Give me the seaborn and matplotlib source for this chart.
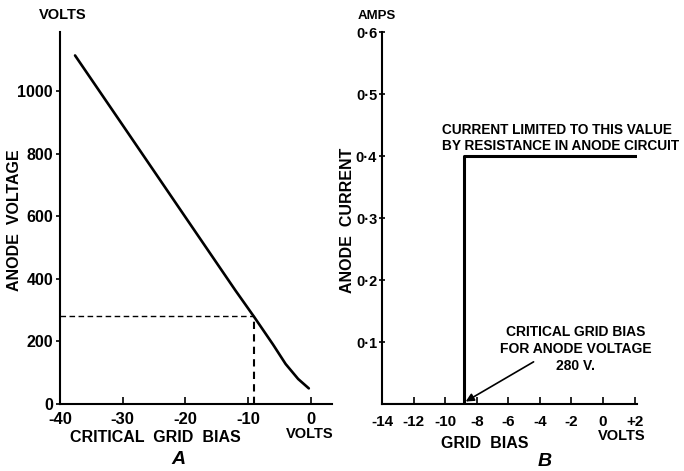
import matplotlib
matplotlib.use("Agg")
import matplotlib.pyplot as plt
import pandas as pd
import seaborn as sns

# Panel A: anode voltage against critical grid bias
crit_bias = [-37.6, -30, -20, -12, -9, -6, -4, -2, -0.3]
anode_volts = [1115, 892, 598, 363, 278, 190, 128, 80, 50]
op_bias = -9
op_volts = 280
a_xticks = [-40, -30, -20, -10, 0]
a_xlabels = ["-40", "-30", "-20", "-10", "0"]
a_yticks = [0, 200, 400, 600, 800, 1000]
a_ylabels = ["0", "200", "400", "600", "800", "1000"]

# Panel B: anode current against grid bias (step at critical bias)
grid_bias = [-14, -8.8, -8.8, 2.2]
anode_amps = [0.0, 0.0, 0.4, 0.4]
b_xticks = [-14, -12, -10, -8, -6, -4, -2, 0, 2]
b_xlabels = ["-14", "-12", "-10", "-8", "-6", "-4", "-2", "0", "+2"]
b_yticks = [0.1, 0.2, 0.3, 0.4, 0.5, 0.6]
b_ylabels = ["0\u00b71", "0\u00b72", "0\u00b73", "0\u00b74", "0\u00b75", "0\u00b76"]

sns.set_style("ticks")
plt.rcParams['font.family'] = ['Liberation Sans', 'DejaVu Sans']
plt.rcParams['font.weight'] = 'bold'
plt.rcParams['text.color'] = 'black'

W, H = 684, 471
fig = plt.figure(figsize=(W / 100, H / 100), dpi=100)


def px(x, y):
    return x / W, 1 - y / H


axA = fig.add_axes([60 / W, 1 - 404 / H, 272 / W, 372 / H])
axB = fig.add_axes([382 / W, 1 - 404 / H, 255 / W, 372 / H])

df_a = pd.DataFrame({"bias": crit_bias, "volts": anode_volts})
sns.lineplot(data=df_a, x="bias", y="volts", ax=axA, color="black",
             linewidth=1.9, estimator=None, sort=False)
axA.plot([-40, op_bias], [op_volts, op_volts], color="black",
         linestyle=(0, (4, 2.5)), linewidth=1.0)
axA.plot([op_bias, op_bias], [0, op_volts], color="black",
         linestyle=(0, (3.5, 2.5)), linewidth=1.5)
axA.set_xlim(-40, 3.4)
axA.set_ylim(0, 1190)
axA.set_xticks(a_xticks)
axA.set_xticklabels(a_xlabels)
axA.set_yticks(a_yticks)
axA.set_yticklabels(a_ylabels)
axA.set_xlabel("")
axA.set_ylabel("")

df_b = pd.DataFrame({"bias": grid_bias, "amps": anode_amps})
sns.lineplot(data=df_b, x="bias", y="amps", ax=axB, color="black",
             linewidth=2.2, estimator=None, sort=False)
axB.set_xlim(-14, 2.15)
axB.set_ylim(0, 0.6)
axB.set_xticks(b_xticks)
axB.set_xticklabels(b_xlabels)
axB.set_yticks(b_yticks)
axB.set_yticklabels(b_ylabels)
axB.set_xlabel("")
axB.set_ylabel("")

for ax in (axA, axB):
    sns.despine(ax=ax)
    for s in ("left", "bottom"):
        ax.spines[s].set_linewidth(1.5)
        ax.spines[s].set_color("black")
    ax.tick_params(axis="x", direction="in", length=5, width=1.2,
                   pad=6, colors="black")
axA.tick_params(axis="x", labelsize=12)
axB.tick_params(axis="x", labelsize=11, pad=8)
axA.tick_params(axis="y", direction="out", length=3, width=1.2,
                labelsize=11.5, pad=2, colors="black")
axB.tick_params(axis="y", direction="inout", length=5, width=1.2,
                labelsize=10.5, pad=1, colors="black")

# Panel A texts
fig.text(*px(63, 15), "VOLTS", ha="center", va="center", fontsize=10.5)
fig.text(*px(15, 220), "ANODE  VOLTAGE", ha="center", va="center",
         rotation=90, fontsize=11.5)
fig.text(*px(155, 437), "CRITICAL  GRID  BIAS", ha="center", va="center",
         fontsize=11.5)
fig.text(*px(310, 434), "VOLTS", ha="center", va="center", fontsize=10.5)
fig.text(*px(178, 460), "A", ha="center", va="center", fontsize=14,
         style="italic")

# Panel B texts
fig.text(*px(377, 16), "AMPS", ha="center", va="center", fontsize=9.5)
fig.text(*px(347, 220), "ANODE  CURRENT", ha="center", va="center",
         rotation=90, fontsize=11.5)
fig.text(*px(485, 443), "GRID  BIAS", ha="center", va="center", fontsize=11.5)
fig.text(*px(622, 436), "VOLTS", ha="center", va="center", fontsize=10.5)
fig.text(*px(545, 461), "B", ha="center", va="center", fontsize=14,
         style="italic")
fig.text(*px(442, 138), "CURRENT LIMITED TO THIS VALUE\nBY RESISTANCE IN ANODE CIRCUIT",
         ha="left", va="center", fontsize=9.8, linespacing=1.25)
fig.text(*px(576, 349), "CRITICAL GRID BIAS\nFOR ANODE VOLTAGE\n280 V.",
         ha="center", va="center", fontsize=10, linespacing=1.3)
axB.annotate("", xy=(grid_bias[1] + 0.1, 0.004), xytext=(-4.4, 0.068),
             arrowprops=dict(arrowstyle="-|>", color="black", lw=1.2,
                             shrinkA=0, shrinkB=0, mutation_scale=12))

fig.savefig("out.png", dpi=100)
